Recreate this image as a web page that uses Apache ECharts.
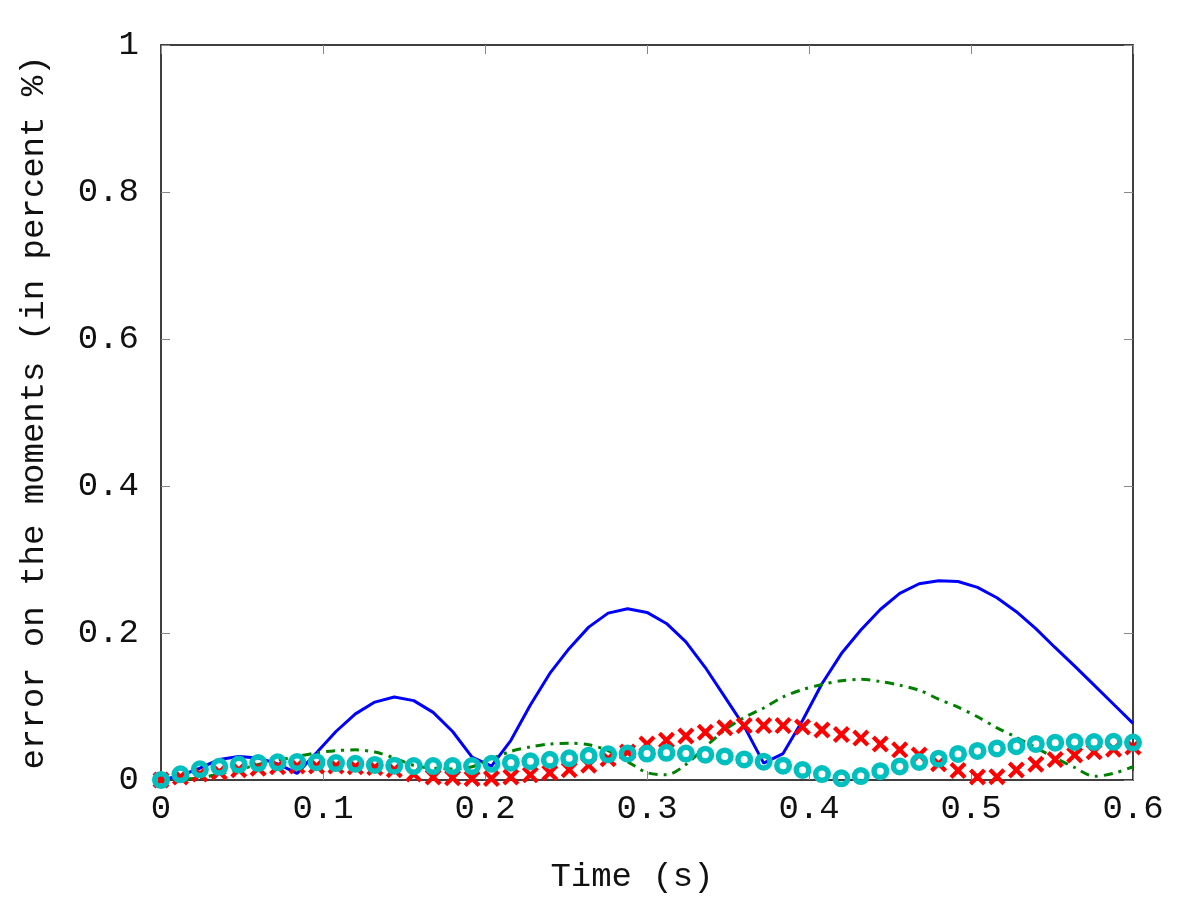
<!DOCTYPE html>
<html>
<head>
<meta charset="utf-8">
<script src="https://cdn.jsdelivr.net/npm/echarts@6/dist/echarts.min.js"></script>
<style>html,body{margin:0;padding:0;background:#fff;}#c{width:1200px;height:900px;}</style>
</head>
<body>
<div id="c"></div>
<script>
var time = [0,0.012,0.024,0.036,0.048,0.06,0.072,0.084,0.096,0.108,0.12,0.132,0.144,0.156,0.168,0.18,0.192,0.204,0.216,0.228,0.24,0.252,0.264,0.276,0.288,0.3,0.312,0.324,0.336,0.348,0.36,0.372,0.384,0.396,0.408,0.42,0.432,0.444,0.456,0.468,0.48,0.492,0.504,0.516,0.528,0.54,0.552,0.564,0.576,0.588,0.6];
var blueErr = [0,0.006,0.016,0.028,0.032,0.030,0.022,0.009,0.037,0.066,0.090,0.106,0.113,0.108,0.092,0.066,0.031,0.019,0.054,0.102,0.145,0.179,0.208,0.227,0.233,0.228,0.213,0.188,0.153,0.113,0.073,0.023,0.036,0.081,0.131,0.172,0.204,0.232,0.254,0.267,0.271,0.270,0.262,0.248,0.229,0.206,0.180,0.155,0.129,0.103,0.077];
var greenErr = [0,0.001,0.003,0.008,0.014,0.021,0.027,0.032,0.037,0.040,0.041,0.038,0.030,0.020,0.016,0.015,0.018,0.029,0.039,0.045,0.049,0.050,0.048,0.040,0.025,0.010,0.007,0.021,0.045,0.068,0.085,0.098,0.113,0.123,0.130,0.135,0.137,0.134,0.129,0.122,0.110,0.099,0.086,0.071,0.058,0.044,0.030,0.017,0.005,0.009,0.018];
var redErr = [0,0.004,0.008,0.011,0.014,0.016,0.018,0.019,0.019,0.019,0.018,0.017,0.014,0.008,0.004,0.003,0.002,0.002,0.004,0.007,0.010,0.014,0.020,0.029,0.038,0.049,0.054,0.060,0.065,0.071,0.074,0.074,0.074,0.072,0.068,0.062,0.057,0.049,0.041,0.034,0.022,0.013,0.004,0.0045,0.0136,0.0215,0.028,0.034,0.0385,0.042,0.045];
var cyanErr = [0,0.0077,0.0145,0.018,0.021,0.023,0.024,0.0245,0.024,0.023,0.022,0.0205,0.0195,0.019,0.019,0.019,0.019,0.022,0.0236,0.0255,0.0275,0.0295,0.033,0.035,0.036,0.036,0.037,0.036,0.0345,0.032,0.028,0.025,0.0195,0.0136,0.008,0.0023,0.0054,0.012,0.0185,0.0245,0.029,0.0354,0.0395,0.043,0.046,0.049,0.0508,0.0517,0.0517,0.052,0.051];
var xTickLabels = ['0','0.1','0.2','0.3','0.4','0.5','0.6'];
var yTickLabels = ['0','0.2','0.4','0.6','0.8','1'];
var xName = 'Time (s)';
var yName = 'error on the moments (in percent %)';

function pairs(vals){ return time.map(function(t,i){ return [t, vals[i]]; }); }

var FONT = 'Liberation Mono';
var FS = 34;
var crossPath = 'path://M3.5,0 L10,6.5 L16.5,0 L20,3.5 L13.5,10 L20,16.5 L16.5,20 L10,13.5 L3.5,20 L0,16.5 L6.5,10 L0,3.5 Z';

function xLab(v){ var i = Math.round(v/0.1); return xTickLabels[i] !== undefined ? xTickLabels[i] : ''; }
function yLab(v){ var i = Math.round(v/0.2); return yTickLabels[i] !== undefined ? yTickLabels[i] : ''; }

var axLine = {show:true, onZero:false, lineStyle:{color:'#000', width:1.5}};
var tick = {show:true, inside:true, length:9, lineStyle:{color:'#888', width:1}};

var chart = echarts.init(document.getElementById('c'), null, {renderer:'canvas'});
chart.setOption({
  animation:false,
  backgroundColor:'#fff',
  grid:{left:161, right:67, top:45, bottom:120, containLabel:false},
  xAxis:[
    {type:'value', position:'bottom', min:0, max:0.6, interval:0.1,
     axisLine:axLine, axisTick:tick, splitLine:{show:false},
     axisLabel:{formatter:xLab, fontFamily:FONT, fontSize:FS, color:'#111', margin:12},
     name:xName, nameLocation:'middle', nameGap:80,
     nameTextStyle:{fontFamily:FONT, fontSize:FS, color:'#111', padding:[0,30,0,0]}},
    {type:'value', position:'top', min:0, max:0.6, interval:0.1,
     axisLine:axLine, axisTick:tick, splitLine:{show:false}, axisLabel:{show:false}}
  ],
  yAxis:[
    {type:'value', position:'left', min:0, max:1, interval:0.2,
     axisLine:axLine, axisTick:tick, splitLine:{show:false},
     axisLabel:{formatter:yLab, fontFamily:FONT, fontSize:FS, color:'#111', margin:22},
     name:yName, nameLocation:'middle', nameRotate:90, nameGap:110,
     nameTextStyle:{fontFamily:FONT, fontSize:FS, color:'#111'}},
    {type:'value', position:'right', min:0, max:1, interval:0.2,
     axisLine:axLine, axisTick:tick, splitLine:{show:false}, axisLabel:{show:false}}
  ],
  series:[
    {type:'line', data:pairs(blueErr), showSymbol:false, symbol:'none',
     lineStyle:{color:'#0000ff', width:3}, z:2},
    {type:'line', data:pairs(greenErr), showSymbol:false, symbol:'none', smooth:0.3,
     lineStyle:{color:'#008000', width:3, type:[9,6,3,6]}, z:3},
    {type:'scatter', data:pairs(redErr), symbol:crossPath, symbolSize:17,
     itemStyle:{color:'#ff0000', opacity:1}, z:4},
    {type:'scatter', data:pairs(cyanErr), symbol:'circle', symbolSize:12.5,
     itemStyle:{color:'rgba(0,0,0,0)', borderColor:'#00bfbf', borderWidth:5.5, opacity:1}, z:5}
  ]
});
</script>
</body>
</html>
